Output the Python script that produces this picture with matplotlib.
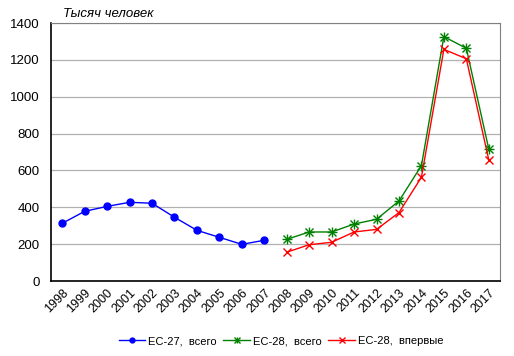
import matplotlib.pyplot as plt

plt.rcParams['font.family'] = ['Liberation Sans', 'DejaVu Sans']

years = [str(y) for y in range(1998, 2018)]
eu27_total = [313, 378, 405, 427, 422, 346, 275, 237, 199, 221]
eu28_total = [226, 266, 266, 309, 335, 434, 626, 1326, 1263, 716]
eu28_first = [156, 197, 210, 266, 280, 371, 563, 1257, 1206, 657]

fig = plt.figure(figsize=(5.14, 3.56), dpi=100)
ax = fig.add_axes([51 / 514, 1 - 281 / 356, 449 / 514, 258 / 356])

x27 = list(range(0, 10))
x28 = list(range(10, 20))
l27, = ax.plot(x27, eu27_total, color='#0000ff', linewidth=1, marker='o', markersize=5)
l28a, = ax.plot(x28, eu28_total, color='#008000', linewidth=1, marker='x', markersize=6,
                markeredgewidth=1)
l28b, = ax.plot(x28, eu28_total, color='#008000', linestyle='none', marker='+', markersize=7,
                markeredgewidth=1)
l28f, = ax.plot(x28, eu28_first, color='#ff0000', linewidth=1, marker='x', markersize=6,
                markeredgewidth=1)

ax.set_xlim(-0.5, 19.5)
ax.set_ylim(0, 1400)
ax.set_yticks(range(0, 1401, 200))
ax.set_xticks(range(20))
ax.set_xticklabels(years, rotation=45, ha='right', rotation_mode='anchor', fontsize=9)
ax.tick_params(axis='y', labelsize=9.5, length=0, pad=8)
ax.tick_params(axis='x', length=0, pad=4)
ax.grid(axis='y', color='#b0b0b0', linewidth=0.9)
ax.set_axisbelow(True)
ax.spines['left'].set_color('black')
ax.spines['bottom'].set_color('black')
ax.spines['left'].set_linewidth(1.2)
ax.spines['bottom'].set_linewidth(1.2)
ax.spines['top'].set_color('#808080')
ax.spines['right'].set_color('#808080')

fig.text(63 / 514, 1 - 14 / 356, 'Тысяч человек', fontsize=9.5, style='italic',
         va='center', ha='left')

fig.legend([l27, (l28a, l28b), l28f], ['ЕС-27,  всего', 'ЕС-28,  всего', 'ЕС-28,  впервые'],
           loc='center', bbox_to_anchor=(281 / 514, 1 - 341 / 356), ncol=3,
           frameon=False, fontsize=8, handlelength=2.4, columnspacing=0.6,
           handletextpad=0.25, markerscale=0.7, borderpad=0)

plt.savefig('out.png', dpi=100)
